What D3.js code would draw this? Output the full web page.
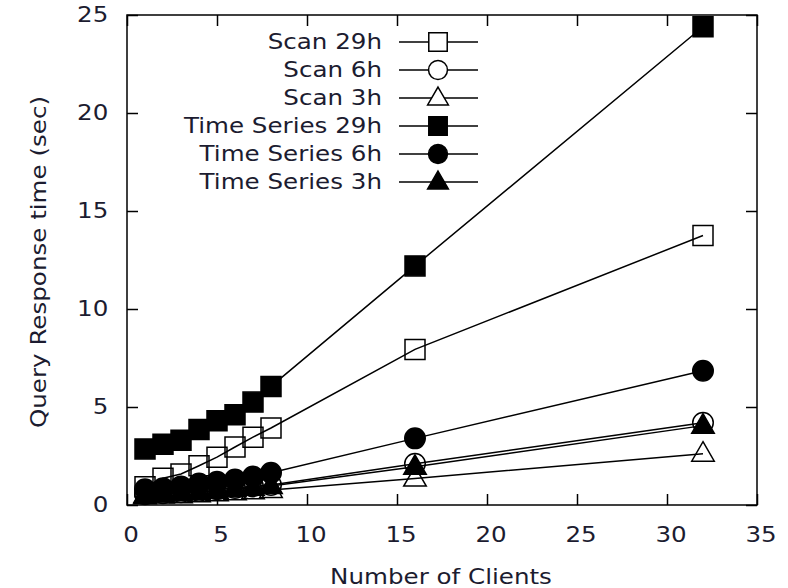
<!DOCTYPE html>
<html>
<head>
<meta charset="utf-8">
<script src="https://cdn.jsdelivr.net/npm/d3@7"></script>
<style>
  body { margin: 0; background: #fff; }
  text { font-family: "DejaVu Sans", sans-serif; fill: #1c1c30; }
</style>
</head>
<body>
<svg class="chart"></svg>
<script>
var svgWidth = 788,
    svgHeight = 588,
    margin = {top: 15, right: 31, bottom: 83, left: 127},
    width = svgWidth - margin.left - margin.right,
    height = svgHeight - margin.top - margin.bottom;

// clients on the x axis
var clients = [1, 2, 3, 4, 5, 6, 7, 8, 16, 32];

// response time (sec)
var scan29h = [0.93, 1.37, 1.58, 2.0, 2.44, 2.96, 3.46, 3.93, 7.94, 13.75];
var scan6h  = [0.55, 0.6, 0.65, 0.72, 0.8, 0.87, 0.95, 1.02, 2.1, 4.2];
var scan3h  = [0.45, 0.48, 0.5, 0.55, 0.6, 0.65, 0.7, 0.77, 1.35, 2.62];
var ts29h   = [2.86, 3.1, 3.3, 3.85, 4.3, 4.6, 5.25, 6.05, 12.2, 24.4];
var ts6h    = [0.8, 0.85, 0.95, 1.1, 1.18, 1.3, 1.45, 1.65, 3.4, 6.85];
var ts3h    = [0.5, 0.55, 0.6, 0.65, 0.72, 0.8, 0.88, 0.97, 1.95, 4.05];

var seriesNames = ['Scan 29h', 'Scan 6h', 'Scan 3h', 'Time Series 29h', 'Time Series 6h', 'Time Series 3h'];
var seriesValues = [scan29h, scan6h, scan3h, ts29h, ts6h, ts3h];
var seriesSymbols = ['square', 'circle', 'triangle', 'square', 'circle', 'triangle'];
var seriesFilled = [false, false, false, true, true, true];

var xTicks = [0, 5, 10, 15, 20, 25, 30, 35];
var yTicks = [0, 5, 10, 15, 20, 25];

var stretch = 1.17; // the lettering in the picture is wider than DejaVu

var xScale = d3.scaleLinear().domain([0, 35]).range([0, width]),
    yScale = d3.scaleLinear().domain([0, 25]).range([height, 0]);

var svg = d3.select('.chart')
    .attr('width', svgWidth)
    .attr('height', svgHeight)
  .append('g')
    .attr('transform', 'translate(' + margin.left + ',' + margin.top + ')');

var symbolTypes = {square: d3.symbolSquare, circle: d3.symbolCircle, triangle: d3.symbolTriangle};
var symbolSizes = {square: 400, circle: 330, triangle: 220};
var symbolPath = function(name, k) {
  return d3.symbol().type(symbolTypes[name]).size(symbolSizes[name] * (k || 1))();
};

// axes, ticks pointing inwards on all four sides
var xAxis = d3.axisBottom(xScale).tickValues(xTicks).tickSize(-11).tickPadding(22);
var yAxis = d3.axisLeft(yScale).tickValues(yTicks).tickSize(-11).tickPadding(16);

svg.append('g')
    .attr('class', 'xaxis')
    .attr('transform', 'translate(0,' + height + ')')
    .call(xAxis);
svg.append('g')
    .attr('class', 'yaxis')
    .call(yAxis);
svg.append('g')
    .call(d3.axisTop(xScale).tickValues(xTicks).tickSize(-11).tickFormat(''));
svg.append('g')
    .attr('transform', 'translate(' + width + ',0)')
    .call(d3.axisRight(yScale).tickValues(yTicks).tickSize(-11).tickFormat(''));

svg.selectAll('.domain').remove();
svg.selectAll('.tick line').attr('stroke', '#000').attr('stroke-width', 1.5);
svg.selectAll('.tick text').attr('font-size', 21).style('fill', '#1c1c30')
    .attr('transform', 'scale(' + stretch + ',1)');
svg.select('.xaxis').selectAll('.tick text').attr('dx', 3);

svg.append('rect')
    .attr('width', width)
    .attr('height', height)
    .attr('fill', 'none')
    .attr('stroke', '#000')
    .attr('stroke-width', 1.5);

// axis titles
svg.append('text')
    .attr('transform', 'translate(314,' + (height + 79) + ') scale(' + stretch + ',1)')
    .attr('text-anchor', 'middle')
    .attr('font-size', 21)
    .text('Number of Clients');

svg.append('text')
    .attr('transform', 'translate(-88,247) rotate(-90) scale(' + stretch + ',1)')
    .attr('dy', '0.35em')
    .attr('text-anchor', 'middle')
    .attr('font-size', 21)
    .text('Query Response time (sec)');

// series
var line = d3.line()
    .x(function(d, i) { return xScale(clients[i]); })
    .y(function(d) { return yScale(d); });

seriesValues.forEach(function(values, s) {
  var g = svg.append('g').attr('class', 'series');
  g.append('path')
      .attr('d', line(values))
      .attr('fill', 'none')
      .attr('stroke', '#000')
      .attr('stroke-width', 1.5);
  g.selectAll('.dot')
      .data(values)
    .enter().append('path')
      .attr('class', 'dot')
      .attr('d', symbolPath(seriesSymbols[s]))
      .attr('transform', function(d, i) {
        var dy = seriesSymbols[s] === 'triangle' ? 1 : 0;
        return 'translate(' + xScale(clients[i]) + ',' + (yScale(d) + dy) + ')';
      })
      .attr('fill', seriesFilled[s] ? '#000' : 'none')
      .attr('stroke', '#000')
      .attr('stroke-width', 1.5);
});

// legend
var legend = svg.append('g')
    .attr('transform', 'translate(' + (382 - margin.left) + ',' + (42 - margin.top) + ')');

seriesNames.forEach(function(name, s) {
  var row = legend.append('g').attr('transform', 'translate(0,' + (s * 28) + ')');
  row.append('text')
      .attr('transform', 'scale(' + stretch + ',1)')
      .attr('dy', '0.35em')
      .attr('text-anchor', 'end')
      .attr('font-size', 21)
      .text(name);
  row.append('line')
      .attr('x1', 17).attr('x2', 96)
      .attr('stroke', '#000')
      .attr('stroke-width', 1.5);
  row.append('path')
      .attr('d', symbolPath(seriesSymbols[s], 0.85))
      .attr('transform', 'translate(56,' + (seriesSymbols[s] === 'triangle' ? 1 : 0) + ')')
      .attr('fill', seriesFilled[s] ? '#000' : '#fff')
      .attr('stroke', '#000')
      .attr('stroke-width', 1.5);
});
</script>
</body>
</html>
